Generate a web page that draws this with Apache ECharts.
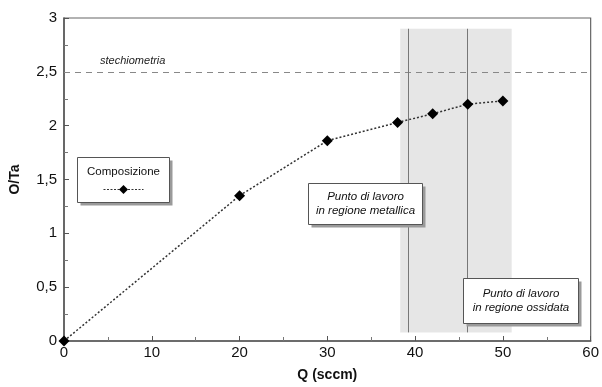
<!DOCTYPE html>
<html><head><meta charset="utf-8">
<script src="https://cdn.jsdelivr.net/npm/echarts@6/dist/echarts.min.js"></script>
<style>html,body{margin:0;padding:0;background:#fff}#c{width:602px;height:387px}</style>
</head><body><div id="c"></div>
<script>
const qValues = [0, 20, 30, 38, 42, 46, 50];
const otaValues = [0, 1.35, 1.86, 2.03, 2.11, 2.20, 2.23];
const seriesName = 'Composizione';
const stoichValue = 2.5;
const stoichLabel = 'stechiometria';
const shadeRange = [38.3, 51.0];
const shadeY = [0.08, 2.9];
const workLines = [39.25, 45.95];
const boxMetal = ['Punto di lavoro', 'in regione metallica'];
const boxOx = ['Punto di lavoro', 'in regione ossidata'];

const chart = echarts.init(document.getElementById('c'));
const fmt = v => String(v).replace('.', ',');
const font = 'Liberation Sans, Arial, sans-serif';

function box(x, y, w, h, lines, italic) {
  return {
    type: 'group', left: x, top: y, z: 100,
    children: [
      { type: 'rect', z: 100, shape: { x: 3, y: 3, width: w, height: h }, style: { fill: '#9a9a9a' } },
      { type: 'rect', z: 101, shape: { x: 0, y: 0, width: w, height: h }, style: { fill: '#fff', stroke: '#555', lineWidth: 1 } },
      { type: 'text', z: 102, style: { x: w / 2, y: h / 2, text: lines.join('\n'), align: 'center', verticalAlign: 'middle',
        font: (italic ? 'italic ' : '') + '11.5px ' + font, fill: '#111', lineHeight: 14 } }
    ]
  };
}

chart.setOption({
  animation: false,
  backgroundColor: '#fff',
  grid: { left: 64, right: 8, top: 18, bottom: 41, show: true, borderColor: '#666', borderWidth: 1.2 },
  xAxis: {
    type: 'value', min: 0, max: 60, interval: 10,
    name: 'Q (sccm)', nameLocation: 'middle', nameGap: 27,
    nameTextStyle: { fontFamily: font, fontWeight: 'bold', fontSize: 14, color: '#111' },
    axisLine: { lineStyle: { color: '#555', width: 1.5 } },
    axisTick: { inside: true, length: 5, lineStyle: { color: '#555' } },
    minorTick: { show: true, splitNumber: 2, length: 4, lineStyle: { color: '#777' } },
    splitLine: { show: false },
    axisLabel: { fontFamily: font, fontSize: 15, color: '#111', margin: 4 }
  },
  yAxis: {
    type: 'value', min: 0, max: 3, interval: 0.5,
    name: 'O/Ta', nameLocation: 'middle', nameGap: 42,
    nameTextStyle: { fontFamily: font, fontWeight: 'bold', fontSize: 14, color: '#111' },
    axisLine: { show: true, lineStyle: { color: '#555', width: 1.5 } },
    axisTick: { show: true, inside: true, length: 5, lineStyle: { color: '#555' } },
    minorTick: { show: true, splitNumber: 2, length: 4, lineStyle: { color: '#777' } },
    splitLine: { show: false },
    axisLabel: { fontFamily: font, fontSize: 15, color: '#111', margin: 7, formatter: fmt }
  },
  series: [{
    name: seriesName, type: 'line', data: qValues.map((q, i) => [q, otaValues[i]]),
    symbol: 'diamond', symbolSize: 11, z: 10,
    itemStyle: { color: '#000' },
    lineStyle: { color: '#333', width: 1.5, type: [2, 2] },
    markArea: {
      silent: true, z: 1,
      itemStyle: { color: 'rgba(195,195,195,0.42)' },
      data: [[{ coord: [shadeRange[0], shadeY[0]] }, { coord: [shadeRange[1], shadeY[1]] }]]
    },
    markLine: {
      silent: true, symbol: 'none', z: 2,
      label: { show: false },
      data: [
        { yAxis: stoichValue, lineStyle: { color: '#888', type: [6, 5], width: 1 } },
        [{ coord: [workLines[0], shadeY[0]], lineStyle: { color: '#777', type: 'solid', width: 1 } }, { coord: [workLines[0], shadeY[1]] }],
        [{ coord: [workLines[1], shadeY[0]], lineStyle: { color: '#777', type: 'solid', width: 1 } }, { coord: [workLines[1], shadeY[1]] }]
      ]
    }
  }],
  graphic: [
    { type: 'text', left: 100, top: 55, z: 100, style: { text: stoichLabel, font: 'italic 11px ' + font, fill: '#222' } },
    box(308, 183, 114, 41, boxMetal, true),
    box(463, 278, 115, 45, boxOx, true),
    {
      type: 'group', left: 77, top: 157, z: 100,
      children: [
        { type: 'rect', z: 100, shape: { x: 3, y: 3, width: 92, height: 45 }, style: { fill: '#9a9a9a' } },
        { type: 'rect', z: 101, shape: { x: 0, y: 0, width: 92, height: 45 }, style: { fill: '#fff', stroke: '#555', lineWidth: 1 } },
        { type: 'text', z: 102, style: { x: 46, y: 14, text: seriesName, align: 'center', verticalAlign: 'middle', font: '11.5px ' + font, fill: '#111' } },
        { type: 'line', z: 102, shape: { x1: 26, y1: 32, x2: 66, y2: 32 }, style: { stroke: '#333', lineWidth: 1, lineDash: [2, 1.5] } },
        { type: 'polygon', z: 102, shape: { points: [[46, 27.5], [50.5, 32], [46, 36.5], [41.5, 32]] }, style: { fill: '#000' } }
      ]
    }
  ]
});
</script></body></html>
